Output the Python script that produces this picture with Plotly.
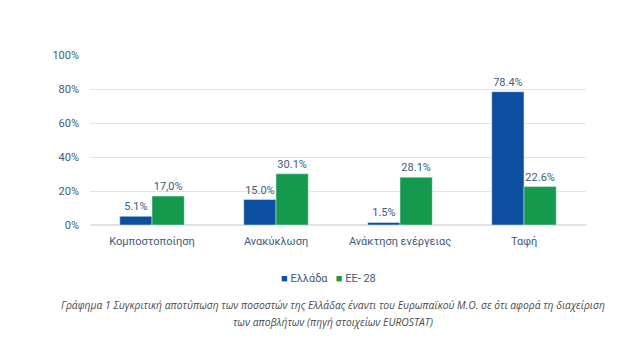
import plotly.graph_objects as go

categories = ["Κομποστοποίηση", "Ανακύκλωση", "Ανάκτηση ενέργειας", "Ταφή"]
greece = [5.1, 15.0, 1.5, 78.4]
eu28 = [17.0, 30.1, 28.1, 22.6]
greece_labels = ["5.1%", "15.0%", "1.5%", "78.4%"]
eu_labels = ["17,0%", "30.1%", "28.1%", "22.6%"]
y_ticks = [0, 20, 40, 60, 80, 100]
y_ticktext = ["0%", "20%", "40%", "60%", "80%", "100%"]
series_names = ["Ελλάδα", "ΕΕ- 28"]
series_colors = ["#0c4fa1", "#14994d"]
caption_lines = [
    "Γράφημα 1 Συγκριτική αποτύπωση των ποσοστών της Ελλάδας έναντι του Ευρωπαϊκού Μ.Ο. σε ότι αφορά τη διαχείριση",
    "των αποβλήτων (πηγή στοιχείων EUROSTAT)",
]

label_color = "#3e5b7c"
font_family = "Roboto, Open Sans, sans-serif"

fig = go.Figure()
for vals, labels, name, color in [(greece, greece_labels, series_names[0], series_colors[0]),
                                  (eu28, eu_labels, series_names[1], series_colors[1])]:
    fig.add_trace(go.Bar(x=categories, y=vals, name=name, marker_color=color,
                         text=labels, textposition="outside", cliponaxis=False,
                         textfont=dict(size=11, color=label_color)))

legend_text = "&nbsp;&nbsp;&nbsp;".join(
    f"<span style='color:{c}'>■</span> {n}" for n, c in zip(series_names, series_colors))

annotations = [
    dict(text=legend_text, xref="paper", yref="paper",
         x=(328 - 90) / 496, y=-(278 - 225) / 170,
         xanchor="center", yanchor="middle", showarrow=False,
         font=dict(size=11, color=label_color, family=font_family))
]
annotations += [
    dict(text="<i>" + line + "</i>", xref="paper", yref="paper",
         x=(333 - 90) / 496, y=-(ypix - 225) / 170,
         xanchor="center", yanchor="middle", showarrow=False, align="center",
         font=dict(size=10.3, color="#4a4a4a", family="Open Sans, sans-serif"))
    for line, ypix in zip(caption_lines, [305, 322])
]

fig.update_layout(
    width=641, height=342,
    margin=dict(l=90, r=55, t=55, b=117),
    paper_bgcolor="white", plot_bgcolor="white",
    font=dict(family=font_family, size=11, color=label_color),
    barmode="group", bargap=0.48, bargroupgap=0,
    showlegend=False,
    xaxis=dict(showgrid=False, showline=False, ticks="", ticklabelstandoff=8,
               tickfont=dict(size=11, color=label_color)),
    yaxis=dict(range=[0, 100], tickvals=y_ticks, ticktext=y_ticktext, showgrid=True,
               gridcolor="#e3e3e3", gridwidth=1, zeroline=True, zerolinecolor="#e3e3e3",
               ticks="", ticklabelstandoff=10, tickfont=dict(size=11, color=label_color)),
    annotations=annotations,
)

fig.write_html("out.html")
